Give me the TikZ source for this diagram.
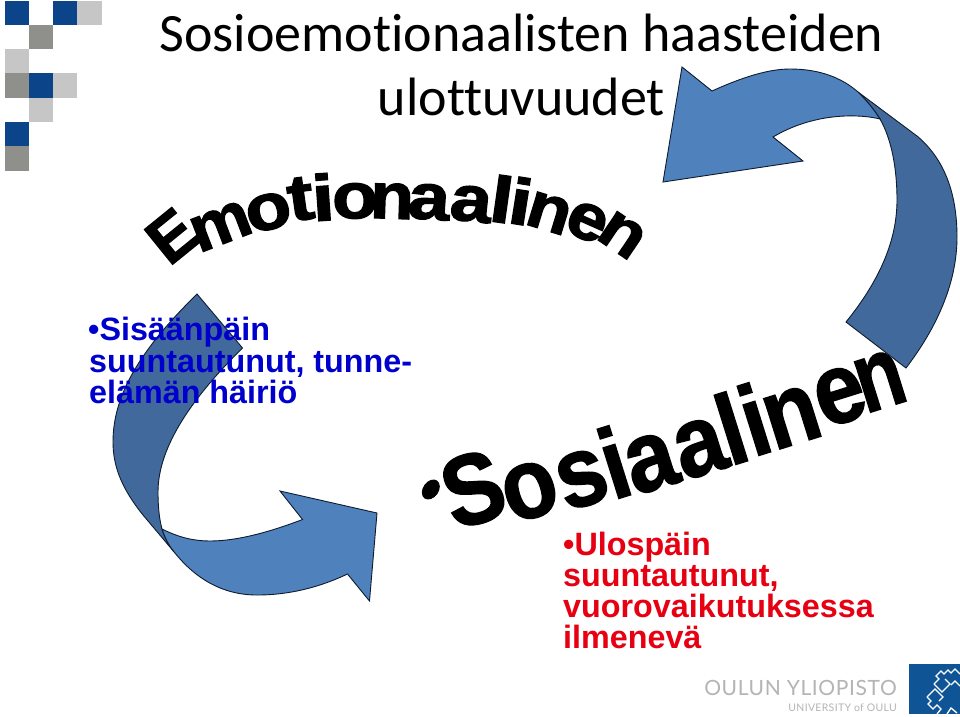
\documentclass[tikz,border=0pt]{standalone}
\usepackage{fontspec}
\setmainfont{Liberation Sans}
\newfontfamily\titlefont[Ligatures=NoCommon]{Carlito}
\newfontfamily\heavyfont[FakeBold=2]{Liberation Sans Bold}
\newfontfamily\slantfont[FakeBold=1.5]{Liberation Sans Bold}
\newfontfamily\logofont[LetterSpace=3]{Lato}
\definecolor{navy}{HTML}{0B4488}
\definecolor{greyD}{HTML}{8F8F8B}
\definecolor{greyL}{HTML}{C6C6C6}
\definecolor{arrowL}{HTML}{4F81BD}
\definecolor{arrowD}{HTML}{41699C}
\definecolor{edge}{HTML}{0E1C2E}
\definecolor{inkB}{HTML}{0000CC}
\definecolor{inkR}{HTML}{E60012}
\definecolor{logoT}{HTML}{B4B4B4}
\definecolor{logoB}{HTML}{0F5595}
\tikzset{
  x=1pt,y=-1pt,
  arrowlight/.style={fill=arrowL,draw=edge,line width=0.9pt,line join=miter},
  arrowdark/.style={fill=arrowD,draw=edge,line width=0.9pt,line join=miter},
  head/.style={anchor=base,font=\titlefont\fontsize{54}{54}\selectfont,text=black,inner sep=0pt},
  bodyblue/.style={anchor=base west,font=\bfseries\fontsize{32.3}{32.3}\selectfont,text=inkB,inner sep=0pt},
  bodyred/.style={anchor=base west,font=\bfseries\fontsize{32.3}{32.3}\selectfont,text=inkR,inner sep=0pt},
  arc letter/.style={font=\heavyfont\fontsize{65}{65}\selectfont,text=black,inner sep=0pt,anchor=center},
  slant letter/.style={font=\slantfont\fontsize{100}{100}\selectfont,text=black,inner sep=0pt,anchor=center,rotate=17.4,xscale=0.9},
  logotext/.style={anchor=base east,inner sep=0pt,text=logoT},
}
\begin{document}
\begin{tikzpicture}
\useasboundingbox (0,0) rectangle (960,716);
\fill[white] (0,0) rectangle (960,716);
% corner squares
\fill[navy]  (5,1) rectangle (29,25);
\fill[navy]  (53,1) rectangle (77,25);
\fill[greyL] (77,1) rectangle (102,25);
\fill[greyD] (29,25) rectangle (53,49);
\fill[greyL] (5,49) rectangle (29,73);
\fill[greyD] (5,73) rectangle (29,98);
\fill[navy]  (29,73) rectangle (53,98);
\fill[greyL] (53,73) rectangle (77,98);
\fill[greyL] (29,98) rectangle (53,122);
\fill[navy]  (5,122) rectangle (29,146);
\fill[greyD] (5,146) rectangle (29,171);
% title
\node[head] (t1) at (521.5,51) {Sosioemotionaalisten haasteiden};
\node[head] (t2) at (521.5,115) {ulottuvuudet};
% Emotionaalinen
\node[arc letter,rotate=39,xscale=1.0] (e1) at (172,236) {E};
\node[arc letter,rotate=21,xscale=1.05] (e2) at (221,226) {m};
\node[arc letter,rotate=14,xscale=1.15] (e3) at (268.5,212) {o};
\node[arc letter,rotate=8,xscale=1.2] (e4) at (300.5,199) {t};
\node[arc letter,rotate=4,xscale=1.25] (e5) at (323,197) {i};
\node[arc letter,rotate=0,xscale=1.15] (e6) at (355,201) {o};
\node[arc letter,rotate=-2,xscale=1.1] (e7) at (392,201) {n};
\node[arc letter,rotate=-4,xscale=1.15] (e8) at (429,202) {a};
\node[arc letter,rotate=-6,xscale=1.15] (e9) at (471,204) {a};
\node[arc letter,rotate=-8,xscale=1.25] (e10) at (502,199) {l};
\node[arc letter,rotate=-9,xscale=1.25] (e11) at (521,201) {i};
\node[arc letter,rotate=-17,xscale=1.1] (e12) at (549,213) {n};
\node[arc letter,rotate=-24,xscale=1.1] (e13) at (587,222) {e};
\node[arc letter,rotate=-34,xscale=1.1] (e14) at (622,235) {n};
% Sosiaalinen
\node[font=\slantfont\fontsize{72}{72}\selectfont,inner sep=0pt,anchor=center,rotate=-35,xscale=0.72] (s0) at (427,495) {\textbullet};
\node[slant letter] (s1) at (473,489) {S};
\node[slant letter] (s2) at (530,491) {o};
\node[slant letter] (s3) at (582,479) {s};
\node[slant letter] (s4) at (614,462) {i};
\node[slant letter] (s5) at (651,463) {a};
\node[slant letter] (s6) at (700,448) {a};
\node[slant letter] (s7) at (731,428) {l};
\node[slant letter] (s8) at (754,419) {i};
\node[slant letter] (s9) at (792,417) {n};
\node[slant letter] (s10) at (840,396) {e};
\node[slant letter,xscale=0.87] (s11) at (880,381) {n};
% arrows
\path[arrowdark] (858,92) -- (917,136) .. controls (948,162) and (957,200) .. (957,237)
  .. controls (957,285) and (935,330) .. (906,368) -- (846,322)
  .. controls (880,280) and (897,240) .. (897,200) .. controls (897,170) and (892,140) .. (880,119)
  .. controls (873,108) and (866,100) .. (858,92) -- cycle;
\path[arrowlight] (682,67) -- (712,91) .. controls (745,76) and (770,69) .. (790,69)
  .. controls (820,69) and (842,78) .. (858,92) .. controls (866,100) and (873,108) .. (880,119)
  .. controls (860,114) and (815,112) .. (773,137) -- (803,161) -- (663,182) -- cycle;
\path[arrowdark] (197,294) -- (242.5,348) .. controls (195,395) and (158,445) .. (158,492)
  .. controls (158,505) and (159,518) .. (162,529) .. controls (165,538) and (169,546) .. (175,553)
  -- (143,515) .. controls (123,490) and (113,468) .. (113,442)
  .. controls (113,395) and (140,350) .. (197,294) -- cycle;
\path[arrowlight] (162,529) .. controls (180,538) and (195,541) .. (210,541)
  .. controls (240,541) and (275,530) .. (302.5,519.5) -- (280,491) -- (377,513) -- (369.5,601)
  -- (347.5,574) .. controls (320,587) and (290,595) .. (257,595)
  .. controls (222,595) and (195,578) .. (175,553) .. controls (169,546) and (165,538) .. (162,529) -- cycle;
% body text
\node[bodyblue] (b1) at (88,340) {\textbullet Sisäänpäin};
\node[bodyblue] (b2) at (89,372) {suuntautunut, tunne-};
\node[bodyblue] (b3) at (89,403) {elämän häiriö};
\node[bodyred] (r1) at (563,555) {\textbullet Ulospäin};
\node[bodyred] (r2) at (563,586) {suuntautunut,};
\node[bodyred] (r3) at (563,617) {vuorovaikutuksessa};
\node[bodyred] (r4) at (563,648) {ilmenevä};
% logo
\node[logotext,font=\logofont\fontsize{21}{21}\selectfont] (l1) at (897,695) {OULUN YLIOPISTO};
\node[logotext,font=\logofont\fontsize{10.5}{10.5}\selectfont] (l2) at (897,711) {UNIVERSITY of OULU};
\fill[logoB] (909,664) rectangle (960,714);
\begin{scope}[draw=white,line width=1.3pt]
\draw (934,684) -- (939,679) -- (936,676) -- (941,671) -- (944,674) -- (948,670) -- (951,673) -- (955,669) -- (960,674);
\draw (934,684) -- (942,692) -- (950,684) -- (945,679);
\draw (960,686) -- (955,681) -- (951,685);
\draw (927,697) -- (935,689) -- (943,697) -- (939,701);
\draw (927,697) -- (931,701) -- (928,704) -- (933,709) -- (937,705) -- (941,709) -- (937,714);
\draw (947,714) -- (951,708) -- (957,713);
\end{scope}
\end{tikzpicture}
\end{document}
